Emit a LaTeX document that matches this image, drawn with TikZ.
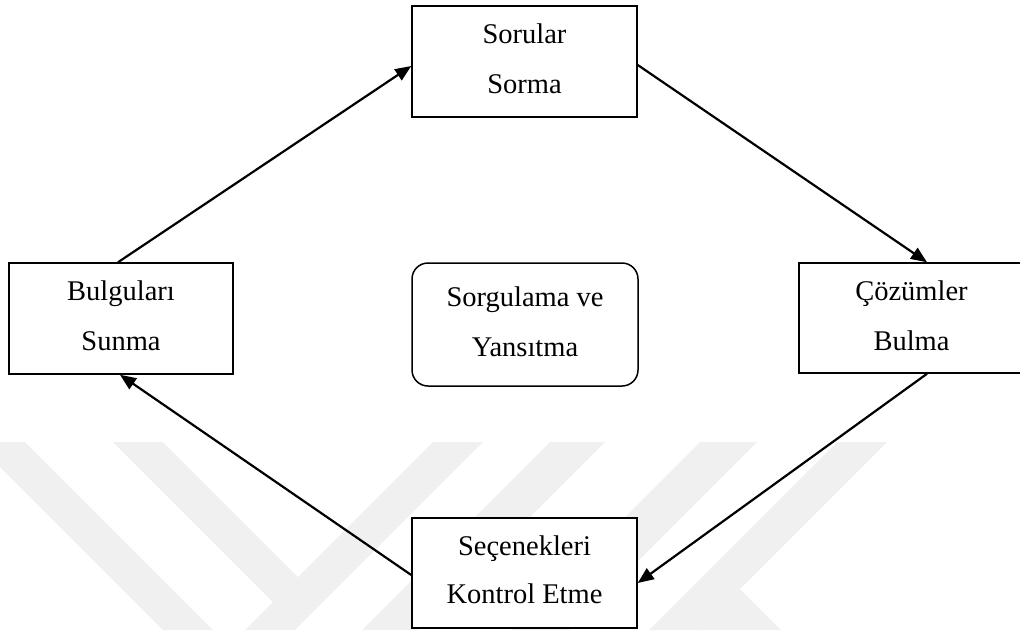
\documentclass[tikz,border=0pt]{standalone}
\usepackage{fontspec}
\setmainfont{Liberation Serif}
\usetikzlibrary{arrows.meta}
\tikzset{
  wm/.style={fill=black!6, draw=none},
  boxnode/.style={draw=black, line width=1.5pt, fill=white, inner sep=0pt},
  txtnode/.style={align=center, inner sep=0pt, font=\fontsize{28.5}{50}\selectfont},
  txtnodeb/.style={align=center, inner sep=0pt, font=\fontsize{28.5}{48}\selectfont},
  conn/.style={line width=2.2pt, -{Triangle[length=16pt,width=13pt]}}
}
\begin{document}
\begin{tikzpicture}[x=1pt,y=-1pt]
\useasboundingbox (0,0) rectangle (1020,630);
% watermark
\fill[wm] (-25,442) -- (25,442) -- (213,630) -- (163,630) -- cycle;
\fill[wm] (113,442) -- (163,442) -- (298,577) -- (273,602) -- cycle;
\fill[wm] (433,442) -- (483,442) -- (295,630) -- (245,630) -- cycle;
\fill[wm] (550,442) -- (605,442) -- (417,630) -- (362,630) -- cycle;
\fill[wm] (700,442) -- (757,442) -- (569,630) -- (512,630) -- cycle;
\fill[wm] (837,442) -- (887,442) -- (699,630) -- (649,630) -- cycle;
\fill[wm] (740,589) -- (781,630) -- (699,630) -- cycle;
% boxes
\node[boxnode, minimum width=225pt, minimum height=111pt] (soru) at (524.5,61.5) {};
\node[boxnode, minimum width=224pt, minimum height=111pt] (bulgu) at (121,318.5) {};
\node[boxnode, minimum width=225pt, minimum height=110pt] (cozum) at (911.5,318) {};
\node[boxnode, minimum width=225pt, minimum height=110pt] (secen) at (524.5,573) {};
\node[boxnode, minimum width=226pt, minimum height=123pt, rounded corners=16pt] (sorg) at (525,324.5) {};
% texts
\node[txtnode, yshift=2.75pt] (soruT) at (soru.center) {Sorular\\Sorma};
\node[txtnode, yshift=2.75pt] (bulguT) at (bulgu.center) {Bulguları\\Sunma};
\node[txtnode, yshift=2.75pt] (cozumT) at (cozum.center) {Çözümler\\Bulma};
\node[txtnodeb, yshift=3.75pt] (secenT) at (secen.center) {Seçenekleri\\Kontrol Etme};
\node[txtnode, yshift=2.75pt] (sorgT) at (sorg.center) {Sorgulama ve\\Yansıtma};
% connectors
\draw[conn] ([xshift=-3pt]bulgu.north) -- ([yshift=-4.5pt]soru.west);
\draw[conn] ([yshift=-3.5pt]soru.east) -- ([xshift=15.5pt]cozum.north);
\draw[conn] ([xshift=15.5pt]cozum.south) -- ([yshift=-10pt]secen.east);
\draw[conn] ([yshift=-2pt]secen.west) -- ([xshift=-1pt]bulgu.south);
\end{tikzpicture}
\end{document}
